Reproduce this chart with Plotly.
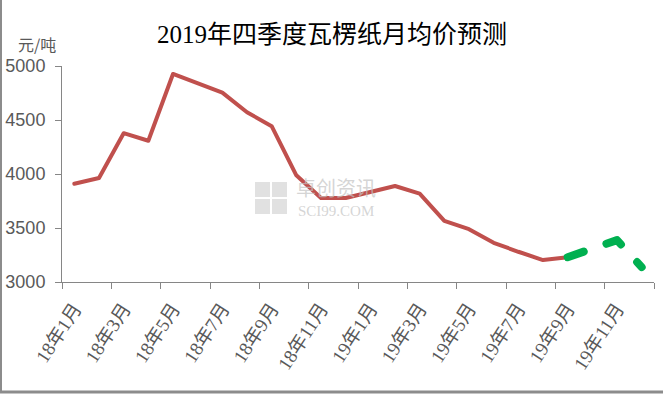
import plotly.graph_objects as go

months = ["18年1月","18年2月","18年3月","18年4月","18年5月","18年6月","18年7月","18年8月",
          "18年9月","18年10月","18年11月","18年12月","19年1月","19年2月","19年3月","19年4月",
          "19年5月","19年6月","19年7月","19年8月","19年9月","19年10月","19年11月","19年12月"]
actual = [3910, 3963, 4378, 4308, 4926, 4840, 4753, 4572, 4443, 3988, 3778, 3778,
          3833, 3889, 3818, 3566, 3489, 3363, 3280, 3203, 3230]
forecast_months = ["19年9月","19年10月","19年11月","19年12月"]
forecast = [3230, 3305, 3388, 3138]
y_ticks = [3000, 3500, 4000, 4500, 5000]
title = "2019年四季度瓦楞纸月均价预测"
unit = "元/吨"

idx = {m: i for i, m in enumerate(months)}
label_idx = list(range(0, len(months), 2))

W, H = 663, 394
L, R, T, B = 62, 9, 66, 112

fig = go.Figure()
fig.add_trace(go.Scatter(x=[idx[m] for m in months[:len(actual)]], y=actual, mode="lines",
                         line=dict(color="#C0504D", width=4), hoverinfo="skip"))
fig.add_trace(go.Scatter(x=[idx[m] for m in forecast_months], y=forecast, mode="lines",
                         line=dict(color="#00B050", width=8, dash="17px,24px"), hoverinfo="skip"))

pw = W - L - R
ph = H - T - B

def px_x(p):
    return (p - L) / pw

def px_y(p):
    return (H - B - p) / ph

shapes = [
    dict(type="line", xref="paper", yref="paper", x0=px_x(1), x1=px_x(1), y0=px_y(0), y1=px_y(392),
         line=dict(color="#8C8C8C", width=2)),
    dict(type="line", xref="paper", yref="paper", x0=px_x(0), x1=px_x(663), y0=px_y(392), y1=px_y(392),
         line=dict(color="#8C8C8C", width=3)),
]
# watermark logo squares
for (x0, y0) in [(255, 182), (272, 182), (255, 199), (272, 199)]:
    shapes.append(dict(type="rect", xref="paper", yref="paper", x0=px_x(x0), x1=px_x(x0 + 15),
                       y0=px_y(y0 + 15), y1=px_y(y0), line=dict(width=0),
                       fillcolor="rgba(200,200,200,0.55)", layer="below"))

annotations = [
    dict(text=title, xref="paper", yref="paper", x=px_x(332), y=px_y(35), showarrow=False,
         xanchor="center", yanchor="middle",
         font=dict(family="Liberation Serif, Noto Sans CJK SC", size=25, color="#000000")),
    dict(text=unit, xref="paper", yref="paper", x=px_x(16), y=px_y(44), showarrow=False,
         xanchor="left", yanchor="middle",
         font=dict(family="Noto Sans CJK SC", size=16, color="#595959")),
    dict(text="卓创资讯", xref="paper", yref="paper", x=px_x(294), y=px_y(187), showarrow=False,
         xanchor="left", yanchor="middle",
         font=dict(family="Noto Sans CJK SC", size=20, color="rgba(195,195,195,0.7)")),
    dict(text="SCI99.COM", xref="paper", yref="paper", x=px_x(296), y=px_y(211), showarrow=False,
         xanchor="left", yanchor="middle",
         font=dict(family="Liberation Serif", size=15, color="rgba(195,195,195,0.7)")),
]

fig.update_layout(
    width=W, height=H,
    margin=dict(l=L, r=R, t=T, b=B, autoexpand=False),
    paper_bgcolor="white", plot_bgcolor="white",
    showlegend=False,
    shapes=shapes, annotations=annotations,
    xaxis=dict(
        range=[-0.5, len(months) - 0.5], automargin=False,
        tickmode="array", tickvals=label_idx, ticktext=[months[i] for i in label_idx],
        ticks="", showgrid=False, zeroline=False,
        showline=True, linecolor="#868686", linewidth=1,
        tickangle=-57, ticklabelstandoff=7,
        tickfont=dict(family="Liberation Serif, Noto Sans CJK SC", size=19, color="#595959"),
        minor=dict(tickmode="array", tickvals=[i - 0.5 for i in range(0, len(months) + 1, 2)],
                   ticks="outside", ticklen=6, tickcolor="#868686", tickwidth=1, showgrid=False),
    ),
    yaxis=dict(
        range=[3000, 5000], tickmode="array", tickvals=y_ticks, automargin=False,
        ticks="outside", ticklen=6, tickcolor="#868686",
        showline=True, linecolor="#868686", linewidth=1,
        showgrid=False, zeroline=False, ticklabelstandoff=6,
        tickfont=dict(family="Liberation Sans", size=18, color="#595959"),
    ),
)

post = ("var s=document.createElement('style');"
        "s.innerHTML='body{margin:0}.js-line{stroke-linecap:round;stroke-linejoin:round}';"
        "document.head.appendChild(s);document.body.style.margin='0';")
fig.write_html("out.html", post_script=post, config={"displayModeBar": False})
